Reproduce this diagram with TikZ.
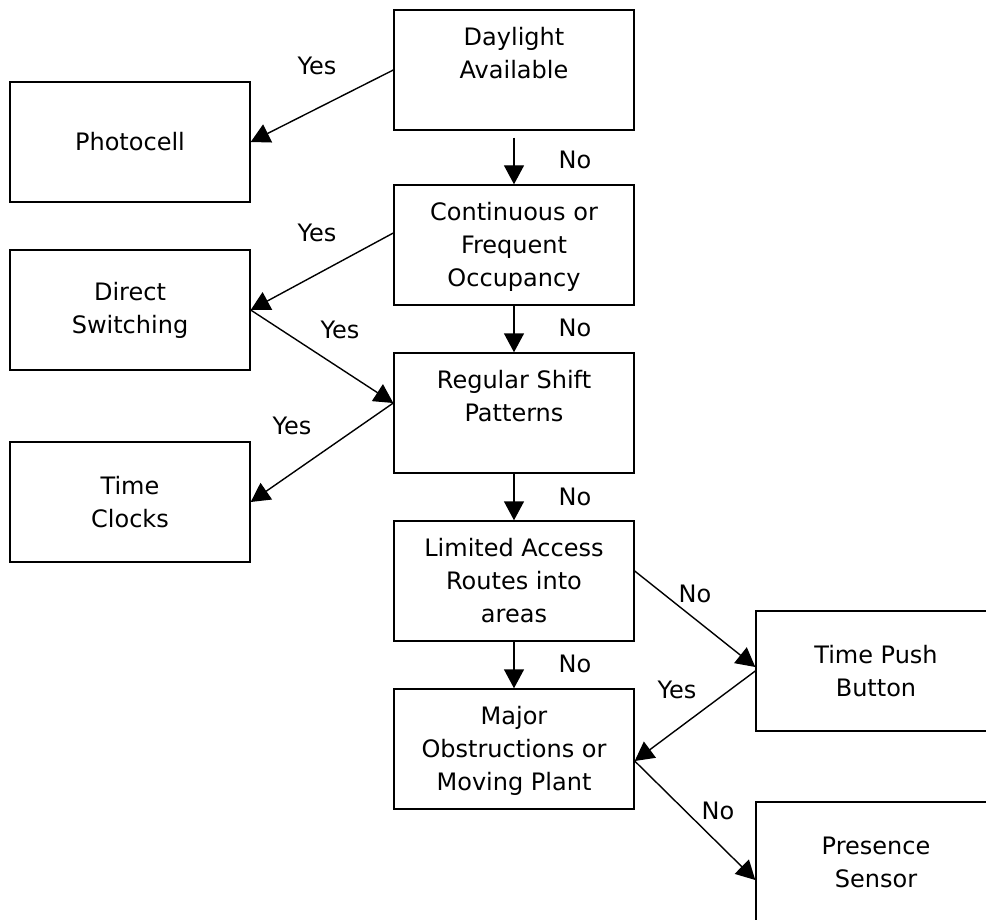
\documentclass[tikz,border=0pt]{standalone}
\usepackage{fontspec}
\setmainfont{DejaVu Sans}
\usetikzlibrary{arrows.meta}
\newcommand{\toptext}[1]{\parbox[c][48pt][t]{108pt}{\centering\strut #1}}
\begin{document}
\begin{tikzpicture}[x=0.5pt, y=-0.5pt,
  every node/.style={font=\fontsize{12}{16.5}\selectfont},
  box/.style={rectangle, draw, line width=0.7pt, minimum width=120pt, minimum height=60pt, align=center, inner sep=6pt},
  arr/.style={-{Triangle[length=9.5pt, width=10pt]}, line width=0.7pt},
  lbl/.style={inner sep=0pt}]
  \clip (0, 0) rectangle (986, 920);
  % Nodes
  \node (day) [box] at (514, 70) {\toptext{Daylight\\Available}};
  \node (photo) [box] at (130, 142) {Photocell};
  \node (cont) [box] at (514, 245) {\toptext{Continuous or\\Frequent\\Occupancy}};
  \node (direct) [box] at (130, 310) {Direct\\Switching};
  \node (shift) [box] at (514, 413) {\toptext{Regular Shift\\Patterns}};
  \node (clocks) [box] at (130, 502) {Time\\Clocks};
  \node (access) [box] at (514, 581) {\toptext{Limited Access\\Routes into\\areas}};
  \node (push) [box] at (876, 671) {Time Push\\Button};
  \node (major) [box] at (514, 749) {\toptext{Major\\Obstructions or\\Moving Plant}};
  \node (presence) [box] at (876, 862) {Presence\\Sensor};
  % Arrows
  \draw[arr] (day.west) -- (photo.east);
  \draw[arr] ([yshift=-3.5pt]day.south) -- (cont.north);
  \draw[arr] ([yshift=6pt]cont.west) -- (direct.east);
  \draw[arr] (cont) -- (shift);
  \draw[arr] (direct.east) -- ([yshift=5pt]shift.west);
  \draw[arr] ([yshift=5pt]shift.west) -- (clocks.east);
  \draw[arr] (shift) -- (access);
  \draw[arr] ([yshift=5pt]access.east) -- ([yshift=2pt]push.west);
  \draw[arr] (access) -- (major);
  \draw[arr] (push.west) -- ([yshift=-6pt]major.east);
  \draw[arr] ([yshift=-6pt]major.east) -- ([yshift=-9pt]presence.west);
  % Labels
  \node (yes1) [lbl] at (317, 66) {Yes};
  \node (no1) [lbl] at (575, 160) {No};
  \node (yes2) [lbl] at (317, 233) {Yes};
  \node (no2) [lbl] at (575, 328) {No};
  \node (yes3) [lbl] at (340, 330) {Yes};
  \node (yes4) [lbl] at (292, 426) {Yes};
  \node (no3) [lbl] at (575, 497) {No};
  \node (no4) [lbl] at (575, 664) {No};
  \node (no5) [lbl] at (695, 594) {No};
  \node (yes5) [lbl] at (677, 690) {Yes};
  \node (no6) [lbl] at (718, 811) {No};
\end{tikzpicture}
\end{document}
